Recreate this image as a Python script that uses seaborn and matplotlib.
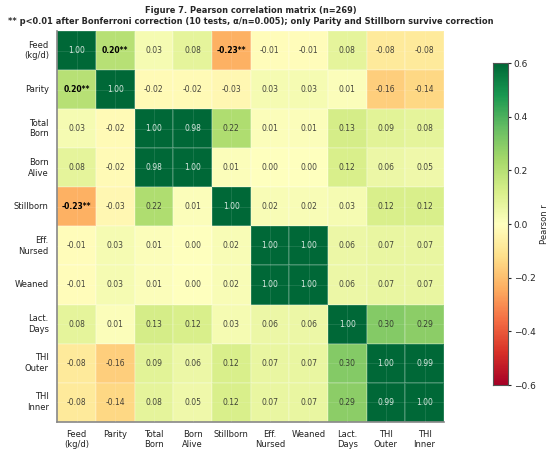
import numpy as np
import pandas as pd
import seaborn as sns
import matplotlib.pyplot as plt

# Etiquetas das variaveis
labels = ['Feed\n(kg/d)', 'Parity', 'Total\nBorn', 'Born\nAlive', 'Stillborn',
          'Eff.\nNursed', 'Weaned', 'Lact.\nDays', 'THI\nOuter', 'THI\nInner']

# Matriz de correlacao
feed      = [1.00, 0.20, 0.03, 0.08, -0.23, -0.01, -0.01, 0.08, -0.08, -0.08]
parity    = [0.20, 1.00, -0.02, -0.02, -0.03, 0.03, 0.03, 0.01, -0.16, -0.14]
total     = [0.03, -0.02, 1.00, 0.98, 0.22, 0.01, 0.01, 0.13, 0.09, 0.08]
alive     = [0.08, -0.02, 0.98, 1.00, 0.01, 0.00, 0.00, 0.12, 0.06, 0.05]
still     = [-0.23, -0.03, 0.22, 0.01, 1.00, 0.02, 0.02, 0.03, 0.12, 0.12]
nursed    = [-0.01, 0.03, 0.01, 0.00, 0.02, 1.00, 1.00, 0.06, 0.07, 0.07]
weaned    = [-0.01, 0.03, 0.01, 0.00, 0.02, 1.00, 1.00, 0.06, 0.07, 0.07]
lact      = [0.08, 0.01, 0.13, 0.12, 0.03, 0.06, 0.06, 1.00, 0.30, 0.29]
thi_outer = [-0.08, -0.16, 0.09, 0.06, 0.12, 0.07, 0.07, 0.30, 1.00, 0.99]
thi_inner = [-0.08, -0.14, 0.08, 0.05, 0.12, 0.07, 0.07, 0.29, 0.99, 1.00]

# Pares significativos apos Bonferroni
signif = [(0, 1), (1, 0), (0, 4), (4, 0)]

corr = pd.DataFrame([feed, parity, total, alive, still, nursed, weaned,
                     lact, thi_outer, thi_inner], index=labels, columns=labels)

annot = corr.map(lambda v: f'{v:.2f}')
for i, j in signif:
    annot.iloc[i, j] = annot.iloc[i, j] + '**'

sns.set_style('whitegrid')
plt.rcParams['font.family'] = ['DejaVu Sans']

fig = plt.figure(figsize=(5.5, 4.51), dpi=100)
ax = fig.add_axes([0.104, 0.065, 0.703, 0.866])
cax = fig.add_axes([0.896, 0.146, 0.028, 0.714])

sns.heatmap(corr, annot=annot.values, fmt='', cmap='RdYlGn', vmin=-0.6, vmax=0.6,
            linewidths=0.3, linecolor=(1, 1, 1, 0.15), ax=ax, cbar_ax=cax,
            annot_kws={'fontsize': 5.5, 'alpha': 0.85})

# Negrito nos valores significativos
n = len(labels)
for k, t in enumerate(ax.texts):
    i, j = divmod(k, n)
    if (i, j) in signif:
        t.set_fontweight('bold')
        t.set_color('black')
        t.set_alpha(1)

ax.set_axisbelow(False)
ax.grid(True, color='white', alpha=0.12, linewidth=0.6)
ax.tick_params(axis='both', labelsize=6, length=2.5, color='#555555', colors='#222222')
ax.tick_params(axis='y', rotation=0)
ax.tick_params(axis='x', rotation=0)
for side in ['left', 'bottom']:
    ax.spines[side].set_visible(True)
    ax.spines[side].set_color('#888888')
    ax.spines[side].set_linewidth(1.2)

cax.set_yticks([-0.6, -0.4, -0.2, 0.0, 0.2, 0.4, 0.6])
cax.tick_params(labelsize=6.5, length=2.5, pad=1.5)
cax.set_ylabel('Pearson r', fontsize=6, labelpad=3)
for s in cax.spines.values():
    s.set_visible(True)
    s.set_color('#555555')

ax.set_title('Figure 7. Pearson correlation matrix (n=269)\n'
             '** p<0.01 after Bonferroni correction (10 tests, \u03b1/n=0.005); '
             'only Parity and Stillborn survive correction',
             fontsize=5.95, fontweight='bold', pad=5, linespacing=1.25)

plt.savefig('out.png', dpi=100)
